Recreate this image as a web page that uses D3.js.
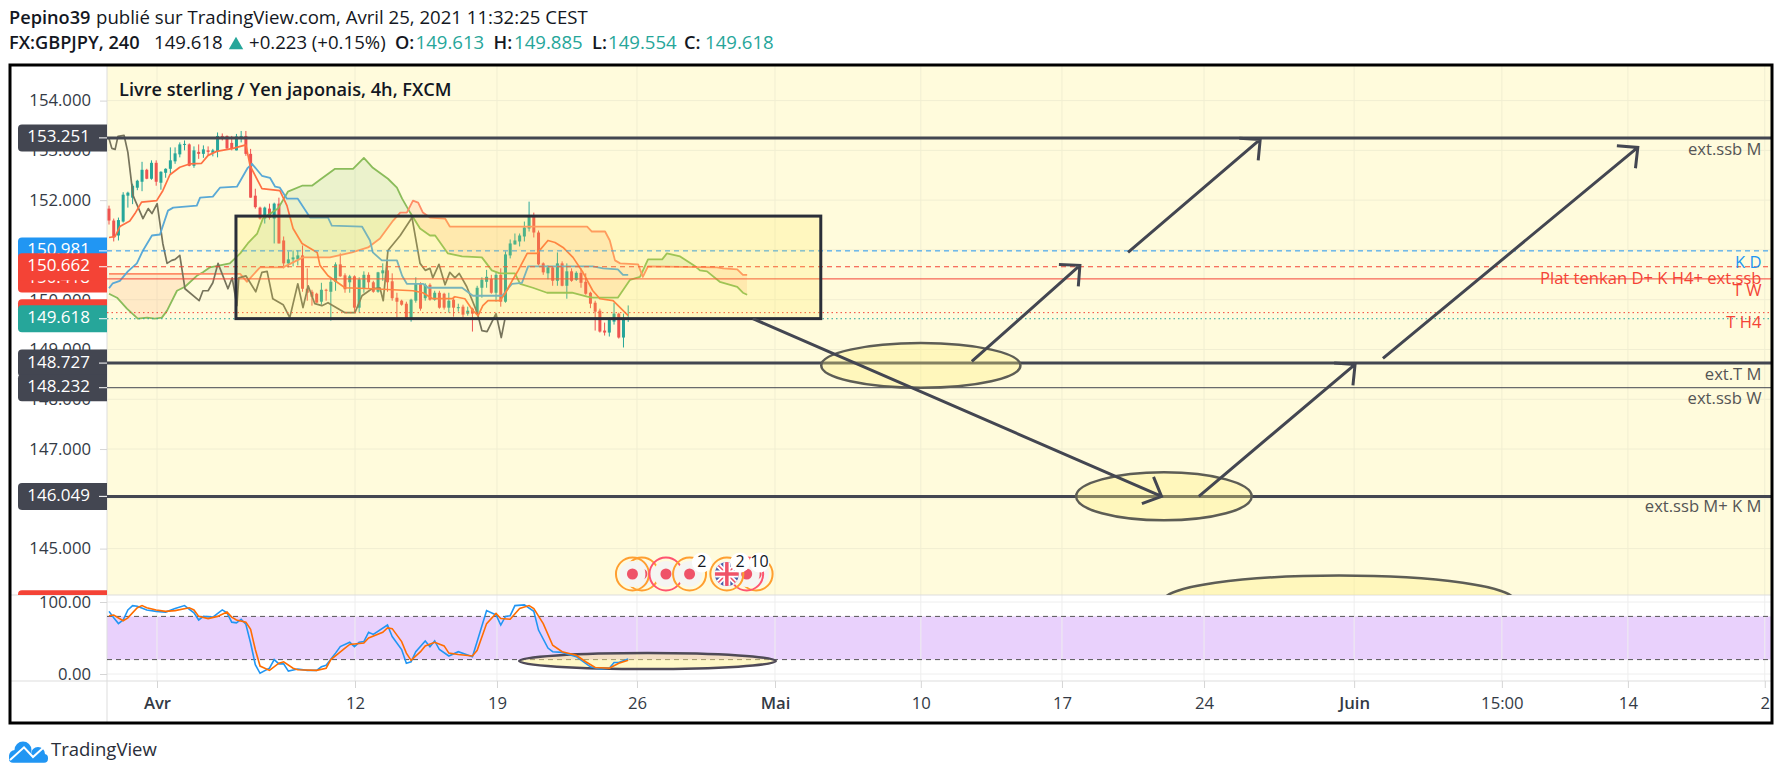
<!DOCTYPE html>
<html>
<head>
<meta charset="utf-8">
<title>GBPJPY</title>
<script src="https://cdnjs.cloudflare.com/ajax/libs/d3/7.8.5/d3.min.js"></script>
<style>
  html, body { margin: 0; padding: 0; background: #fff; }
  svg { display: block; }
  text { font-family: "Open Sans", sans-serif; }
  .domain { display: none; }
</style>
</head>
<body>
<script>
// open, high, low, close per 4h bar
const candles = [
  [151.83,151.89,151.51,151.59],[151.59,151.63,151.17,151.25],[151.29,151.65,151.19,151.60],[151.57,152.16,151.55,152.11],
  [152.09,152.17,151.85,152.15],[152.05,152.33,151.92,152.29],[152.25,152.41,152.20,152.39],[152.37,152.77,152.18,152.61],
  [152.61,152.63,152.42,152.43],[152.43,152.80,152.41,152.75],[152.75,152.80,152.29,152.37],[152.35,152.58,152.21,152.57],
  [152.55,152.64,152.45,152.63],[152.63,153.06,152.53,152.80],[152.78,153.06,152.73,152.94],[152.92,153.16,152.86,153.12],
  [153.12,153.20,153.00,153.13],[153.12,153.14,152.68,152.69],[152.69,153.08,152.65,153.00],[152.97,153.12,152.83,152.93],
  [152.93,153.10,152.85,153.02],[153.00,153.08,152.89,152.97],[152.95,153.03,152.88,153.00],[152.98,153.36,152.86,153.29],
  [153.29,153.34,153.20,153.27],[153.29,153.30,153.02,153.04],[153.15,153.29,153.00,153.04],[153.00,153.33,153.00,153.28],
  [153.27,153.39,153.16,153.29],[153.29,153.39,152.89,152.93],[152.93,153.03,152.05,152.05],[152.09,152.23,151.83,151.86],
  [151.85,151.87,151.61,151.63],[151.63,151.87,151.53,151.85],[151.83,151.93,151.61,151.65],[151.63,151.95,151.13,151.93],
  [151.93,152.05,151.13,151.13],[151.19,151.27,150.63,150.73],[150.73,150.97,150.65,150.81],[150.81,150.99,150.67,150.85],
  [150.81,150.99,150.69,150.89],[150.89,151.09,150.16,150.22],[150.22,150.63,149.98,150.14],[150.16,150.20,149.88,150.06],
  [150.12,150.14,149.94,149.94],[149.96,150.34,149.90,150.20],[150.20,150.22,149.98,150.18],[150.16,150.42,149.58,150.36],
  [150.36,150.75,150.18,150.71],[150.71,150.93,150.46,150.47],[150.49,150.53,150.14,150.21],[150.35,150.50,150.14,150.47],
  [150.47,150.49,149.74,149.84],[149.84,150.45,149.74,150.41],[150.22,150.57,150.14,150.50],[150.50,150.55,150.22,150.35],
  [150.35,150.38,150.14,150.16],[150.16,150.56,150.14,150.55],[150.53,150.73,150.38,150.59],[150.59,150.79,150.16,150.35],
  [150.37,150.53,149.98,150.03],[150.04,150.14,149.64,149.96],[149.98,150.00,149.88,149.90],[149.92,149.96,149.60,149.62],
  [149.60,150.02,149.56,150.00],[149.98,150.45,149.94,150.32],[150.32,150.35,149.78,149.82],[150.03,150.33,149.98,150.30],
  [150.30,150.33,149.98,150.00],[150.00,150.18,149.98,150.14],[150.14,150.18,149.82,149.84],[150.12,150.14,149.80,149.84],
  [149.84,150.14,149.74,149.98],[150.00,150.06,149.66,149.84],[149.83,149.92,149.76,149.85],[149.86,149.90,149.64,149.70],
  [149.72,149.86,149.68,149.78],[149.82,149.84,149.36,149.72],[149.72,150.28,149.70,150.24],[150.24,150.45,150.04,150.40],
  [150.36,150.60,150.24,150.46],[150.42,150.50,150.12,150.14],[150.14,150.55,149.96,150.50],[150.50,150.63,149.86,149.96],
  [149.96,150.97,149.94,150.91],[150.89,151.21,150.83,151.13],[151.11,151.33,151.11,151.19],[151.17,151.33,151.07,151.29],
  [151.27,151.57,151.17,151.45],[151.43,151.97,151.37,151.67],[151.67,151.75,151.25,151.35],[151.35,151.39,150.69,150.71],
  [150.73,150.75,150.50,150.55],[150.53,150.69,150.41,150.65],[150.65,150.67,150.28,150.38],[150.38,150.95,150.28,150.73],
  [150.73,150.77,150.27,150.28],[150.28,150.73,150.02,150.57],[150.57,150.63,150.36,150.38],[150.40,150.57,150.38,150.54],
  [150.54,150.63,150.24,150.34],[150.36,150.53,150.10,150.12],[150.14,150.16,149.83,149.92],[149.94,149.98,149.38,149.76],
  [149.78,149.82,149.34,149.36],[149.38,149.54,149.28,149.34],[149.34,149.64,149.26,149.62],[149.56,149.94,149.50,149.72],
  [149.72,149.74,149.22,149.24],[149.24,149.72,149.04,149.61],[149.613,149.885,149.554,149.618]
];

// ichimoku lines, [bar, price]
const tenkan = [[0,151.25],[1.3,151.27],[2.3,151.47],[4.4,151.58],[5.5,151.73],[6.9,151.96],[10.1,151.99],[11.4,152.19],[12.9,152.51],[15,152.66],[17.2,152.73],[19.6,152.74],[21,152.9],[22.8,152.98],[26.3,153.04],[29,153.11],[29.9,152.69],[32.4,152.23],[36.2,152.19],[37.7,151.89],[39,151.43],[40.9,151.13],[44.1,150.95],[44.7,150.69],[46.4,150.48],[50,150.24],[55.7,150.22],[64.4,150.18],[66.5,150.14],[68.6,150.02],[72.7,150.02],[73.3,150.06],[75.4,150.02],[77.1,149.78],[78.2,149.68],[79.2,149.88],[80.3,149.98],[82.8,149.98],[83.9,150.12],[85.4,150.38],[86.7,150.59],[88.6,150.93],[90.7,150.93],[93,151.19],[94.5,151.15],[96.2,151.05],[98.3,150.85],[100.4,150.55],[102.5,150.18],[104,150.02],[106.8,149.98],[110,149.68]];
const kijun = [[0,150.23],[0.8,150.33],[2.3,150.38],[4,150.57],[5.9,150.73],[7.2,150.99],[9.1,151.29],[10.8,151.31],[12.5,151.79],[13.6,151.85],[18.6,151.89],[19.3,152.05],[22,152.07],[23.5,152.25],[27.1,152.27],[29.4,152.65],[30.3,152.73],[32.4,152.49],[34.1,152.45],[35.2,152.27],[36.2,152.25],[37.7,152.03],[40,152.03],[42.6,151.65],[46.4,151.65],[47.2,151.49],[53.6,151.47],[55.3,151.19],[55.9,150.95],[57.8,150.79],[61,150.79],[62.1,150.48],[63.1,150.32],[66.5,150.32],[67.6,150.24],[74.8,150.24],[77.1,150.08],[83.3,150.08],[85.4,150.32],[87.5,150.34],[88.8,150.67],[102.5,150.67],[104.7,150.63],[107.8,150.61],[108.9,150.5],[110,150.5]];
const senkouA = [[0,150.12],[1.7,150.04],[3.8,149.82],[6.1,149.62],[8.1,149.64],[9.7,149.62],[11.2,149.64],[12.3,149.78],[14.4,150.18],[16.1,150.26],[18.6,150.48],[19.9,150.55],[21.4,150.65],[25.6,150.73],[27.8,150.93],[29.4,151.13],[31.4,151.33],[32.6,151.63],[35.8,151.83],[37.9,152.17],[40.9,152.29],[43,152.29],[44.7,152.41],[47.9,152.63],[51.7,152.63],[54,152.85],[55.9,152.65],[59.1,152.43],[61,152.25],[62.1,152.03],[63.8,151.75],[65.9,151.43],[68,151.29],[69.1,151.29],[71.8,150.93],[74.8,150.87],[79,150.85],[81.1,150.59],[82.8,150.53],[86,150.53],[87.1,150.32],[89.8,150.24],[92.8,150.14],[98.1,150.14],[101.3,150.06],[102.5,150.04],[107.8,150.04],[110.4,150.4],[112.5,150.46],[114.2,150.81],[117.2,150.81],[118.2,150.93],[121,150.87],[124.2,150.67],[125.2,150.59],[126.7,150.57],[129.4,150.36],[133.1,150.26],[134.3,150.14],[135.2,150.1]];
const senkouB = [[0,150.52],[26.7,150.52],[27.8,150.52],[29.2,150.36],[32,150.65],[36.9,150.65],[41.1,150.85],[46.8,150.85],[51.5,150.95],[54.9,151.05],[57.4,151.23],[60.2,151.59],[61.7,151.75],[63.1,151.75],[64.4,151.99],[65.5,151.95],[66.5,151.75],[68,151.65],[71.2,151.63],[72.2,151.47],[101.3,151.47],[102.3,151.37],[105.1,151.37],[106.1,151.19],[107.2,150.79],[108.3,150.73],[112.1,150.71],[113.1,150.46],[114.2,150.67],[128.8,150.65],[130.1,150.63],[133.1,150.61],[134.3,150.5],[135.2,150.5]];
const chikou = [[0,153.24],[0.6,153.04],[1.3,153.02],[1.9,153.28],[3.2,153.3],[4,152.96],[5.1,152.09],[7.2,151.63],[8.3,151.83],[9.1,151.73],[10.2,151.93],[11.4,151.13],[12.3,150.73],[13.3,150.79],[14,150.81],[15,150.89],[16.1,150.22],[19.1,149.98],[19.9,150.18],[21,150.18],[22,150.34],[23.1,150.73],[25.2,150.22],[26.1,150.44],[27.1,149.88],[27.5,150.44],[29,150.48],[31.1,150.16],[32.4,150.55],[33.5,150.57],[34.7,150.02],[36.9,149.9],[38.3,149.64],[40,150.32],[41.1,149.84],[42.2,150.28],[43.6,149.92],[45.1,149.88],[46.4,149.94],[50,149.74],[52.1,149.74],[53.6,150.08],[55.7,150.22],[57.4,150.24],[58.1,149.98],[59.1,150.99],[61.7,151.29],[64.2,151.65],[65.9,150.73],[67,150.59],[68,150.63],[68.6,150.44],[69.9,150.71],[71.2,150.3],[72.2,150.55],[73.3,150.44],[74.2,150.53],[75.8,150.26],[78,149.74],[79,149.38],[80.1,149.36],[82,149.72],[83.1,149.24],[83.9,149.62]];

// stochastic, [bar, value]
const stochK = [[0,87],[1,78],[2,70],[3,75],[4,89],[5,95],[6,94],[8,89],[10,87],[12,86],[14,91],[16,95],[18,85],[19,75],[20,80],[22,79],[24,89],[25,85],[26,72],[27,71],[28,76],[29,69],[30,43],[31,13],[32,1],[34,8],[35,20],[36,14],[37,14],[38,4],[40,7],[42,5],[44,5],[45,10],[46,12],[48,29],[49,38],[51,44],[52,38],[53,44],[54,45],[55,58],[56,55],[59,68],[60,52],[62,34],[63,15],[64,17],[65,31],[67,46],[68,38],[69,46],[70,34],[72,25],[74,31],[77,24],[78,45],[80,88],[82,82],[83,68],[84,80],[85,81],[86,95],[88,96],[90,87],[91,61],[93,36],[94,31],[96,30],[99,24],[102,10],[104,7],[106,8],[107,16],[108,16],[110,21]];
const stochD = [[0,81],[1,82],[3,74],[4,78],[6,92],[7,95],[8,92],[10,89],[12,87],[14,88],[17,92],[18,89],[19,80],[21,77],[23,80],[25,86],[26,79],[27,75],[29,72],[30,62],[31,34],[32,11],[34,5],[36,15],[37,17],[39,8],[40,6],[44,5],[46,8],[47,20],[50,36],[51,41],[54,43],[55,50],[58,58],[59,64],[60,63],[62,45],[63,29],[64,19],[66,31],[67,39],[69,44],[71,39],[72,29],[74,27],[77,25],[78,33],[80,70],[82,84],[83,77],[85,76],[87,91],[89,95],[90,91],[92,70],[94,40],[96,31],[99,26],[101,17],[103,9],[106,8],[108,15],[110,19]];

const priceTicks = [154,153,152,151,150,149,148,147,146,145];
const stochTicks = [100,0];
const timeBars = [10.17,52.12,82.2,111.86,141.1,172,201.9,232,263.8,295.1,321.8,350.8];
const timeLabels = ['Avr','12','19','26','Mai','10','17','24','Juin','15:00','14','2'];
const boldLabels = ['Avr','Mai','Juin'];

// horizontal levels: price, colour, line width, dash
const levels = [
  [153.251,'#434651',3,null],[148.727,'#434651',3,null],[148.232,'#434651',1,null],[146.049,'#434651',3,null],
  [150.981,'#2196f3',1,'5 4'],[150.662,'#f44336',1,'5 4'],[150.418,'#f44336',1,null],
  [149.74,'#f44336',1,'1.5 3'],[149.618,'#26a69a',1,'1.5 3']
];
// price tags in paint order; some sit hidden behind others
const tagPrices = [143.89,150.981,150.418,150.662,149.74,149.618,153.251,148.727,148.232,146.049];
const tagColors = ['#f44336','#2196f3','#f44336','#f44336','#f44336','#26a69a','#434651','#434651','#434651','#434651'];
const tagShown = [false,true,true,true,false,true,true,true,true,true];

const noteTexts = ['ext.ssb M','K D','Plat tenkan D+ K H4+ ext.ssb','T W','T H4','ext.T M','ext.ssb W','ext.ssb M+ K M'];
const notePrices = [153.00,150.73,150.40,150.17,149.52,148.47,147.99,145.82];
const noteColors = ['#555','#2196f3','#f44336','#f44336','#f44336','#555','#555','#555'];

// drawings
const boxBars = [26.9,150.8];
const boxPrices = [151.68,149.62];
const arrows = [
  [136.4,149.62,223,146.05],[182.8,148.76,205.7,150.69],[215.9,150.95,243.9,153.22],
  [230.9,146.05,264,148.7],[269.9,148.82,323.9,153.06]
];
const priceEllipses = [[172,148.68,21.1,0.448],[223.5,146.05,18.6,0.482],[260.6,143.96,37.1,0.5]];
const stochEllipse = [114.1,18,27.2,11];

// calendar events along the bottom of the price pane
const eventBars = [112.9,110.9,118,123,137.1,135.1,130.9];
const eventKinds = ['o','o','p','o','o','p','f'];
const badgeBars = [125.6,133.7,137.8];
const badgeLabels = ['2','2','10'];

const headerLine1 = [['Pepino39',9,true,'#131722'],['publié sur TradingView.com, Avril 25, 2021 11:32:25 CEST',96,false,'#131722']];
const headerLine2 = [
  ['FX:GBPJPY, 240',9,true,'#131722'],['149.618',154,false,'#131722'],['+0.223 (+0.15%)',249,false,'#131722'],
  ['O:',395,true,'#131722'],['149.613',415.5,false,'#26a69a'],['H:',493.6,true,'#131722'],['149.885',514,false,'#26a69a'],
  ['L:',592,true,'#131722'],['149.554',608,false,'#26a69a'],['C:',684,true,'#131722'],['149.618',705,false,'#26a69a']
];

const width = 1783, height = 779;
const left = 107, right = 1771, paneTop = 66, split = 595, bottom = 681, frameB = 723;

const x = d3.scaleLinear().domain([0,110]).range([109,628.2]);
const y = d3.scaleLinear().domain([145,154]).range([548.6,100.6]);
const ys = d3.scaleLinear().domain([0,100]).range([674,602]);

const svg = d3.select('body').append('svg').attr('width', width).attr('height', height);
const defs = svg.append('defs');

defs.append('clipPath').attr('id','pricePane').append('rect')
  .attr('x',left).attr('y',paneTop).attr('width',right-left).attr('height',split-paneTop);
defs.append('clipPath').attr('id','tagPane').append('rect')
  .attr('x',0).attr('y',paneTop).attr('width',left+1).attr('height',split-paneTop);

// backgrounds
svg.append('rect').attr('x',left).attr('y',paneTop).attr('width',right-left).attr('height',split-paneTop).attr('fill','#fffbdc');
svg.append('rect').attr('x',left).attr('y',ys(80)).attr('width',right-left).attr('height',ys(20)-ys(80)).attr('fill','#e9d1fc');

// grid
svg.append('g').selectAll('line').data(priceTicks).enter().append('line')
  .attr('x1',left).attr('x2',right).attr('y1',d=>y(d)).attr('y2',d=>y(d)).attr('stroke','#f1eed2');
svg.append('g').selectAll('line').data(stochTicks).enter().append('line')
  .attr('x1',left).attr('x2',right).attr('y1',d=>ys(d)).attr('y2',d=>ys(d)).attr('stroke','#eeeeee');
svg.append('g').selectAll('line').data(timeBars).enter().append('line')
  .attr('x1',d=>x(d)).attr('x2',d=>x(d)).attr('y1',paneTop).attr('y2',split).attr('stroke','#f1eed2');
svg.append('g').selectAll('line').data(timeBars).enter().append('line')
  .attr('x1',d=>x(d)).attr('x2',d=>x(d)).attr('y1',split).attr('y2',bottom).attr('stroke','#eeeeee');

// separators
const sepColor = '#dddddd';
svg.append('line').attr('x1',left).attr('x2',left).attr('y1',paneTop).attr('y2',frameB).attr('stroke',sepColor);
svg.append('line').attr('x1',10).attr('x2',right).attr('y1',split).attr('y2',split).attr('stroke',sepColor);
svg.append('line').attr('x1',10).attr('x2',right).attr('y1',bottom).attr('y2',bottom).attr('stroke',sepColor);

// axes
const axisStyle = g => {
  g.selectAll('text').attr('fill','#333a45').style('font-size','16.7px');
  g.selectAll('line').attr('stroke','#d5d5d5');
};
svg.append('g').attr('transform','translate('+left+',0)')
  .call(d3.axisLeft(y).tickValues(priceTicks).tickFormat(d3.format('.3f')).tickSize(7).tickPadding(9)).call(axisStyle);
svg.append('g').attr('transform','translate('+left+',0)')
  .call(d3.axisLeft(ys).tickValues(stochTicks).tickFormat(d3.format('.2f')).tickSize(7).tickPadding(9)).call(axisStyle);
const xAxis = svg.append('g').attr('transform','translate(0,'+bottom+')')
  .call(d3.axisBottom(x).tickValues(timeBars).tickFormat((d,i)=>timeLabels[i]).tickSize(7).tickPadding(9)).call(axisStyle);
xAxis.selectAll('text').style('font-weight',(d,i)=>boldLabels.includes(timeLabels[i])?600:400).style('font-size','16.7px');

// cloud: one polygon between the spans, split by which span is on top
const chart = svg.append('g').attr('clip-path','url(#pricePane)');
const lineGen = d3.line().x(d=>x(d[0])).y(d=>y(d[1]));
const cloudPath = lineGen(senkouA.concat(senkouB.slice().reverse())) + 'Z';
const aboveB = d3.area().x(d=>x(d[0])).y0(paneTop).y1(d=>y(d[1]));
const belowB = d3.area().x(d=>x(d[0])).y0(split).y1(d=>y(d[1]));
defs.append('clipPath').attr('id','aboveB').append('path').attr('d',aboveB(senkouB));
defs.append('clipPath').attr('id','belowB').append('path').attr('d',belowB(senkouB));
chart.append('path').attr('d',cloudPath).attr('fill','rgba(76,175,80,0.11)').attr('clip-path','url(#aboveB)');
chart.append('path').attr('d',cloudPath).attr('fill','rgba(255,120,60,0.13)').attr('clip-path','url(#belowB)');

// candles
const upColor = '#26a69a', downColor = '#ef5350';
const bars = chart.append('g').selectAll('g').data(candles).enter().append('g');
bars.append('line')
  .attr('x1',(d,i)=>x(i)).attr('x2',(d,i)=>x(i))
  .attr('y1',d=>y(d[1])).attr('y2',d=>y(d[2]))
  .attr('stroke',d=>d[3]>=d[0]?upColor:downColor);
bars.append('rect')
  .attr('x',(d,i)=>x(i)-1.5).attr('width',3)
  .attr('y',d=>y(Math.max(d[0],d[3])))
  .attr('height',d=>Math.max(1,Math.abs(y(d[0])-y(d[3]))))
  .attr('fill',d=>d[3]>=d[0]?upColor:downColor);

// ichimoku lines
const drawLine = (data,color,w) => chart.append('path').attr('d',lineGen(data))
  .attr('fill','none').attr('stroke',color).attr('stroke-width',w).attr('stroke-linejoin','round');
drawLine(senkouA,'#8abc5a',1.8);
drawLine(senkouB,'#ff8c66',1.8);
drawLine(chikou,'#77745c',1.7);
drawLine(kijun,'#5aa9d6',1.8);
drawLine(tenkan,'#ff7043',1.7);

// levels
chart.append('g').selectAll('line').data(levels).enter().append('line')
  .attr('x1',left).attr('x2',right).attr('y1',d=>y(d[0])).attr('y2',d=>y(d[0]))
  .attr('stroke',d=>d[1]).attr('stroke-width',d=>d[2]).attr('stroke-dasharray',d=>d[3]);

// level notes
chart.append('g').selectAll('text').data(noteTexts).enter().append('text')
  .attr('x',right-9.5).attr('y',(d,i)=>y(notePrices[i])).attr('text-anchor','end').attr('dominant-baseline','middle')
  .attr('fill',(d,i)=>noteColors[i]).style('font-size','16.6px').text(d=>d);

// box
chart.append('rect').attr('x',x(boxBars[0])).attr('y',y(boxPrices[0]))
  .attr('width',x(boxBars[1])-x(boxBars[0])).attr('height',y(boxPrices[1])-y(boxPrices[0]))
  .attr('fill','rgba(255,235,59,0.18)').attr('stroke','#2a2e39').attr('stroke-width',3);

// ellipses
const ellipseFill = 'rgba(255,240,130,0.35)';
chart.append('g').selectAll('ellipse').data(priceEllipses).enter().append('ellipse')
  .attr('cx',d=>x(d[0])).attr('cy',d=>y(d[1]))
  .attr('rx',d=>x(d[2])-x(0)).attr('ry',d=>y(145)-y(145+d[3]))
  .attr('fill',ellipseFill).attr('stroke','#5d5d55').attr('stroke-width',2.5);

// arrows
const headLen = 21, headAngle = 44 * Math.PI / 180;
chart.append('g').selectAll('path').data(arrows).enter().append('path')
  .attr('d',d=>{
    const x0=x(d[0]), y0=y(d[1]), x1=x(d[2]), y1=y(d[3]);
    const a=Math.atan2(y0-y1,x0-x1);
    const p=d3.path();
    p.moveTo(x0,y0); p.lineTo(x1,y1);
    p.moveTo(x1+headLen*Math.cos(a+headAngle),y1+headLen*Math.sin(a+headAngle));
    p.lineTo(x1,y1);
    p.lineTo(x1+headLen*Math.cos(a-headAngle),y1+headLen*Math.sin(a-headAngle));
    return p.toString();
  })
  .attr('fill','none').attr('stroke','#434651').attr('stroke-width',3);

// stochastic
svg.append('g').selectAll('line').data([80,20]).enter().append('line')
  .attr('x1',left).attr('x2',right).attr('y1',d=>ys(d)).attr('y2',d=>ys(d))
  .attr('stroke','#555').attr('stroke-dasharray','5 4');
svg.append('ellipse').attr('cx',x(stochEllipse[0])).attr('cy',ys(stochEllipse[1]))
  .attr('rx',x(stochEllipse[2])-x(0)).attr('ry',ys(0)-ys(stochEllipse[3]))
  .attr('fill','rgba(255,240,130,0.45)').attr('stroke','#4f4a57').attr('stroke-width',2.5);
const stochLine = d3.line().x(d=>x(d[0])).y(d=>ys(d[1]));
svg.append('path').attr('d',stochLine(stochK)).attr('fill','none').attr('stroke','#2196f3').attr('stroke-width',1.6);
svg.append('path').attr('d',stochLine(stochD)).attr('fill','none').attr('stroke','#ff6d00').attr('stroke-width',1.6);

// events
const eventY = 574;
defs.append('clipPath').attr('id','flagClip').append('circle').attr('r',12);
const ev = chart.append('g').selectAll('g').data(eventBars).enter().append('g')
  .attr('transform',d=>'translate('+x(d)+','+eventY+')');
ev.append('circle').attr('r',16.5).attr('fill','none')
  .attr('stroke',(d,i)=>eventKinds[i]==='p'?'#ff5470':'#ff9f30').attr('stroke-width',2);
ev.append('circle').attr('r',13).attr('fill','#f5f5f2');
ev.filter((d,i)=>eventKinds[i]!=='f').append('circle').attr('r',5.5).attr('fill','#ef5368');
const flag = ev.filter((d,i)=>eventKinds[i]==='f').append('g').attr('clip-path','url(#flagClip)');
flag.append('rect').attr('x',-12).attr('y',-12).attr('width',24).attr('height',24).attr('fill','#4a5fa8');
flag.append('path').attr('d','M-12,-12L12,12M12,-12L-12,12').attr('stroke','#fff').attr('stroke-width',5);
flag.append('path').attr('d','M-12,-12L12,12M12,-12L-12,12').attr('stroke','#ef5368').attr('stroke-width',1.5);
flag.append('path').attr('d','M0,-12V12M-12,0H12').attr('stroke','#fff').attr('stroke-width',7);
flag.append('path').attr('d','M0,-12V12M-12,0H12').attr('stroke','#ef5368').attr('stroke-width',3.5);
const badge = chart.append('g').selectAll('g').data(badgeBars).enter().append('g')
  .attr('transform',d=>'translate('+x(d)+','+(eventY-11.5)+')');
badge.append('circle').attr('r',10).attr('fill','#fff');
badge.append('text').attr('text-anchor','middle').attr('dominant-baseline','middle')
  .attr('fill','#131722').style('font-size','16px').text((d,i)=>badgeLabels[i]);

// price tags
const tagsG = svg.append('g').attr('clip-path','url(#tagPane)');
const tagPath = cy => {
  const p=d3.path(), h=13.5, r=4;
  p.moveTo(left,cy-h); p.lineTo(18+r,cy-h); p.arcTo(18,cy-h,18,cy-h+r,r);
  p.lineTo(18,cy+h-r); p.arcTo(18,cy+h,18+r,cy+h,r); p.lineTo(left,cy+h); p.closePath();
  return p.toString();
};
const tags = tagsG.selectAll('g').data(tagPrices).enter().append('g');
tags.append('path').attr('d',d=>tagPath(y(d))).attr('fill',(d,i)=>tagColors[i]);
tags.filter((d,i)=>tagShown[i]).append('line').attr('x1',left-8).attr('x2',left)
  .attr('y1',d=>y(d)).attr('y2',d=>y(d)).attr('stroke','#fff');
tags.filter((d,i)=>tagShown[i]).append('text').attr('x',90).attr('y',d=>y(d)).attr('text-anchor','end')
  .attr('dominant-baseline','middle').attr('fill','#fff').style('font-size','17px').text(d=>d.toFixed(3));

// legend
svg.append('text').attr('x',119).attr('y',91).attr('dominant-baseline','middle')
  .attr('fill','#131722').style('font-size','18.2px').style('font-weight',600).text('Livre sterling / Yen japonais, 4h, FXCM');

// frame
svg.append('rect').attr('x',10).attr('y',65).attr('width',1762).attr('height',658)
  .attr('fill','none').attr('stroke','#000').attr('stroke-width',3);

// header
const drawHeader = (rows,yPos) => svg.append('g').selectAll('text').data(rows).enter().append('text')
  .attr('x',d=>d[1]).attr('y',yPos).attr('dominant-baseline','middle')
  .attr('fill',d=>d[3]).style('font-weight',d=>d[2]?600:400).style('font-size',d=>d[2]?'18.2px':'18.6px').text(d=>d[0]);
drawHeader(headerLine1,19);
drawHeader(headerLine2,44);
svg.append('path').attr('d',d3.symbol().type(d3.symbolTriangle).size(90)).attr('fill','#26a69a')
  .attr('transform','translate(236,45)');

// logo
const logo = svg.append('g');
logo.selectAll('circle').data([[23,750,8.5],[38,754,7],[15,756,6]]).enter().append('circle')
  .attr('cx',d=>d[0]).attr('cy',d=>d[1]).attr('r',d=>d[2]).attr('fill','#2196f3');
logo.append('rect').attr('x',9).attr('y',754).attr('width',39).attr('height',8.7).attr('rx',4).attr('fill','#2196f3');
logo.append('path').attr('d','M10,760L24,747.3L33,757L43,748').attr('fill','none').attr('stroke','#fff').attr('stroke-width',2);
logo.append('text').attr('x',51).attr('y',751).attr('dominant-baseline','middle')
  .attr('fill','#2a2e39').style('font-size','18.5px').text('TradingView');
</script>
</body>
</html>
